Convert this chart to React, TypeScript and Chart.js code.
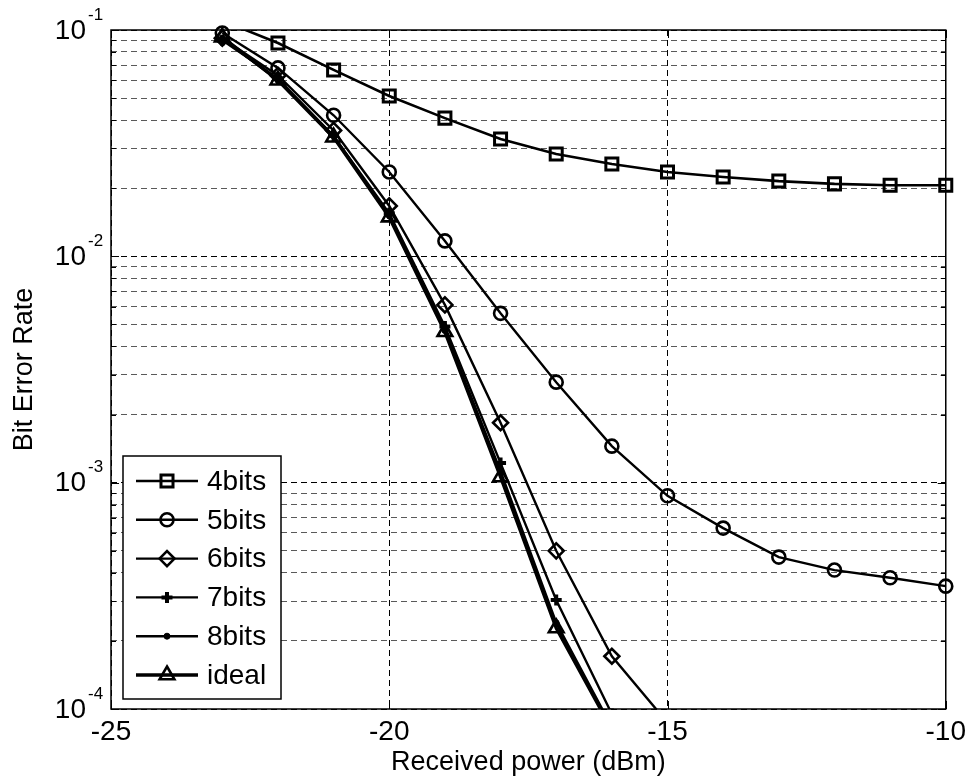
import React, { useEffect, useRef } from 'react';
import { Chart, registerables } from 'chart.js';
import { drawPoint } from 'chart.js/helpers';

Chart.register(...registerables);

const FONT = '"Liberation Sans", Arial, Helvetica, sans-serif';

// Received power (dBm)
const powerDbm = [-23, -22, -21, -20, -19, -18, -17, -16, -15, -14, -13, -12, -11, -10];

// Bit error rate per quantisation
const ber4bits = [0.11, 0.0876, 0.0666, 0.0511, 0.0408, 0.033, 0.0283, 0.0256, 0.0236, 0.0224, 0.0215, 0.0209, 0.0206, 0.0206];
const ber5bits = [0.097, 0.068, 0.042, 0.0236, 0.0117, 0.0056, 0.00278, 0.00145, 0.000875, 0.00063, 0.000469, 0.000411, 0.00038, 0.000349];
const ber6bits = [0.092, 0.063, 0.036, 0.0167, 0.0061, 0.00184, 0.0005, 0.000171, 0.000087];
const ber7bits = [0.09, 0.061, 0.034, 0.0155, 0.0049, 0.00122, 0.000303, 0.000095];
const ber8bits = [0.092, 0.06, 0.034, 0.0151, 0.0047, 0.00112, 0.00024, 0.000083];
const berIdeal = [0.093, 0.06, 0.0336, 0.0149, 0.00464, 0.00106, 0.000228, 0.000081];

const seriesNames = ['4bits', '5bits', '6bits', '7bits', '8bits', 'ideal'];
const xTickValues = [-25, -20, -15, -10];
const yDecades = [-1, -2, -3, -4];
const xTitle = 'Received power (dBm)';
const yTitle = 'Bit Error Rate';

const toPoints = (vals: number[]) => vals.map((v, i) => ({ x: powerDbm[i], y: v }));

const markerStyles = [
  { pointStyle: 'rect', radius: 8.5, pointBorderWidth: 3, lineWidth: 2.6, fill: 'rgba(0,0,0,0)' },
  { pointStyle: 'circle', radius: 6.5, pointBorderWidth: 2.6, lineWidth: 2.4, fill: 'rgba(0,0,0,0)' },
  { pointStyle: 'rectRot', radius: 7.5, pointBorderWidth: 2.6, lineWidth: 2.4, fill: 'rgba(0,0,0,0)' },
  { pointStyle: 'cross', radius: 5.5, pointBorderWidth: 4, lineWidth: 2.4, fill: '#000' },
  { pointStyle: 'circle', radius: 3, pointBorderWidth: 1, lineWidth: 2.6, fill: '#000' },
  { pointStyle: 'triangle', radius: 8.5, pointBorderWidth: 2.6, lineWidth: 3.4, fill: 'rgba(0,0,0,0)' },
];

const seriesValues = [ber4bits, ber5bits, ber6bits, ber7bits, ber8bits, berIdeal];

const framePlugin = {
  id: 'matlabFrame',
  afterDraw(chart: any) {
    const { ctx, chartArea } = chart;
    const { left, right, top, bottom } = chartArea;
    const yScale = chart.scales.y;
    const xScale = chart.scales.x;
    ctx.save();
    // inward tick marks
    ctx.strokeStyle = '#000';
    ctx.lineWidth = 1;
    ctx.setLineDash([]);
    ctx.beginPath();
    yScale.ticks.forEach((t: any) => {
      const y = Math.round(yScale.getPixelForValue(t.value)) + 0.5;
      const len = Number.isInteger(Math.round(Math.log10(t.value) * 1000) / 1000) ? 8 : 5;
      ctx.moveTo(left, y); ctx.lineTo(left + len, y);
      ctx.moveTo(right, y); ctx.lineTo(right - len, y);
    });
    xTickValues.forEach((v) => {
      const x = Math.round(xScale.getPixelForValue(v)) + 0.5;
      ctx.moveTo(x, bottom); ctx.lineTo(x, bottom - 8);
      ctx.moveTo(x, top); ctx.lineTo(x, top + 8);
    });
    ctx.stroke();
    // frame
    ctx.lineWidth = 1.5;
    ctx.strokeRect(left, top, right - left, bottom - top);

    // y tick labels with superscript exponents
    ctx.fillStyle = '#000';
    yDecades.forEach((e) => {
      const y = yScale.getPixelForValue(Math.pow(10, e));
      ctx.font = `28px ${FONT}`;
      ctx.textAlign = 'right';
      ctx.textBaseline = 'middle';
      ctx.fillText('10', 86, y + 1);
      ctx.font = `17px ${FONT}`;
      ctx.textAlign = 'left';
      ctx.fillText(String(e), 88, y - 15);
    });

    // legend
    const bx = left + 12, by = 456, bw = 158, bh = 243;
    ctx.fillStyle = '#fff';
    ctx.fillRect(bx, by, bw, bh);
    ctx.strokeStyle = '#000';
    ctx.lineWidth = 1.5;
    ctx.strokeRect(bx, by, bw, bh);
    chart.data.datasets.forEach((ds: any, i: number) => {
      const m = markerStyles[i];
      const ry = 481 + i * 38.8;
      ctx.strokeStyle = '#000';
      ctx.lineWidth = m.lineWidth;
      ctx.beginPath();
      ctx.moveTo(bx + 13, ry);
      ctx.lineTo(bx + 75, ry);
      ctx.stroke();
      ctx.fillStyle = m.fill;
      ctx.lineWidth = m.pointBorderWidth;
      drawPoint(ctx, { pointStyle: m.pointStyle, radius: m.radius, borderWidth: m.pointBorderWidth, rotation: 0 } as any, bx + 44, ry);
      ctx.fillStyle = '#000';
      ctx.font = `28px ${FONT}`;
      ctx.textAlign = 'left';
      ctx.textBaseline = 'middle';
      ctx.fillText(ds.label, bx + 84, ry + 1);
    });
    ctx.restore();
  },
};

export default function App() {
  const ref = useRef<HTMLCanvasElement | null>(null);
  useEffect(() => {
    document.body.style.margin = '0';
    const canvas = ref.current!;
    const datasets = seriesValues.map((vals, i) => {
      const m = markerStyles[i];
      return {
        label: seriesNames[i],
        data: toPoints(vals),
        borderColor: '#000',
        backgroundColor: m.fill,
        borderWidth: m.lineWidth,
        pointStyle: m.pointStyle,
        pointRadius: m.radius,
        pointHoverRadius: m.radius,
        pointBorderWidth: m.pointBorderWidth,
        pointBorderColor: '#000',
        pointBackgroundColor: m.fill,
        tension: 0,
        fill: false,
        clip: i === 0 ? { left: 12, right: 12, top: 0, bottom: 0 } : { left: 12, right: 12, top: 10, bottom: 0 },
      };
    });
    const chart = new Chart(canvas, {
      type: 'line',
      data: { datasets: datasets as any },
      options: {
        responsive: false,
        animation: false,
        devicePixelRatio: 1,
        layout: { padding: { top: 30, right: 20, left: 0, bottom: 0 } },
        plugins: { legend: { display: false }, tooltip: { enabled: false } },
        scales: {
          x: {
            type: 'linear',
            min: -25,
            max: -10,
            afterBuildTicks: (scale: any) => {
              scale.ticks = xTickValues.map((v) => ({ value: v }));
            },
            afterFit: (scale: any) => {
              scale.height = 74;
            },
            ticks: {
              color: '#000',
              font: { family: FONT, size: 28 },
              padding: 6,
              maxRotation: 0,
              callback: (v: any) => String(v),
            },
            grid: { color: '#000', lineWidth: 1, drawTicks: false },
            border: { display: false, dash: [6, 4] },
            title: {
              display: true,
              text: xTitle,
              color: '#000',
              font: { family: FONT, size: 27 },
              padding: { top: 0, bottom: 4 },
            },
          },
          y: {
            type: 'logarithmic',
            min: 1e-4,
            max: 1e-1,
            afterBuildTicks: (scale: any) => {
              const ticks: any[] = [];
              for (let e = -4; e <= -1; e++) {
                for (let k = 1; k <= 9; k++) {
                  const v = k * Math.pow(10, e);
                  if (v > 0.1 + 1e-12) break;
                  ticks.push({ value: v, major: k === 1 });
                  if (e === -1) break;
                }
              }
              scale.ticks = ticks;
            },
            afterFit: (scale: any) => {
              scale.width = 111;
            },
            ticks: { display: false },
            grid: {
              drawTicks: false,
              lineWidth: 1,
              color: (c: any) => {
                const v = c.tick ? c.tick.value : 0;
                const lg = Math.log10(v);
                return Math.abs(lg - Math.round(lg)) < 1e-6 ? '#000' : 'rgba(0,0,0,0.65)';
              },
            },
            border: { display: false, dash: [6, 4] },
            title: {
              display: true,
              text: yTitle,
              color: '#000',
              font: { family: FONT, size: 27 },
              padding: { top: 8, bottom: 0 },
            },
          },
        },
      },
      plugins: [framePlugin],
    });
    return () => chart.destroy();
  }, []);
  return (
    <div style={{ position: 'absolute', left: 0, top: 0, width: 972, height: 783, background: '#fff' }}>
      <canvas ref={ref} width={972} height={783} />
    </div>
  );
}
